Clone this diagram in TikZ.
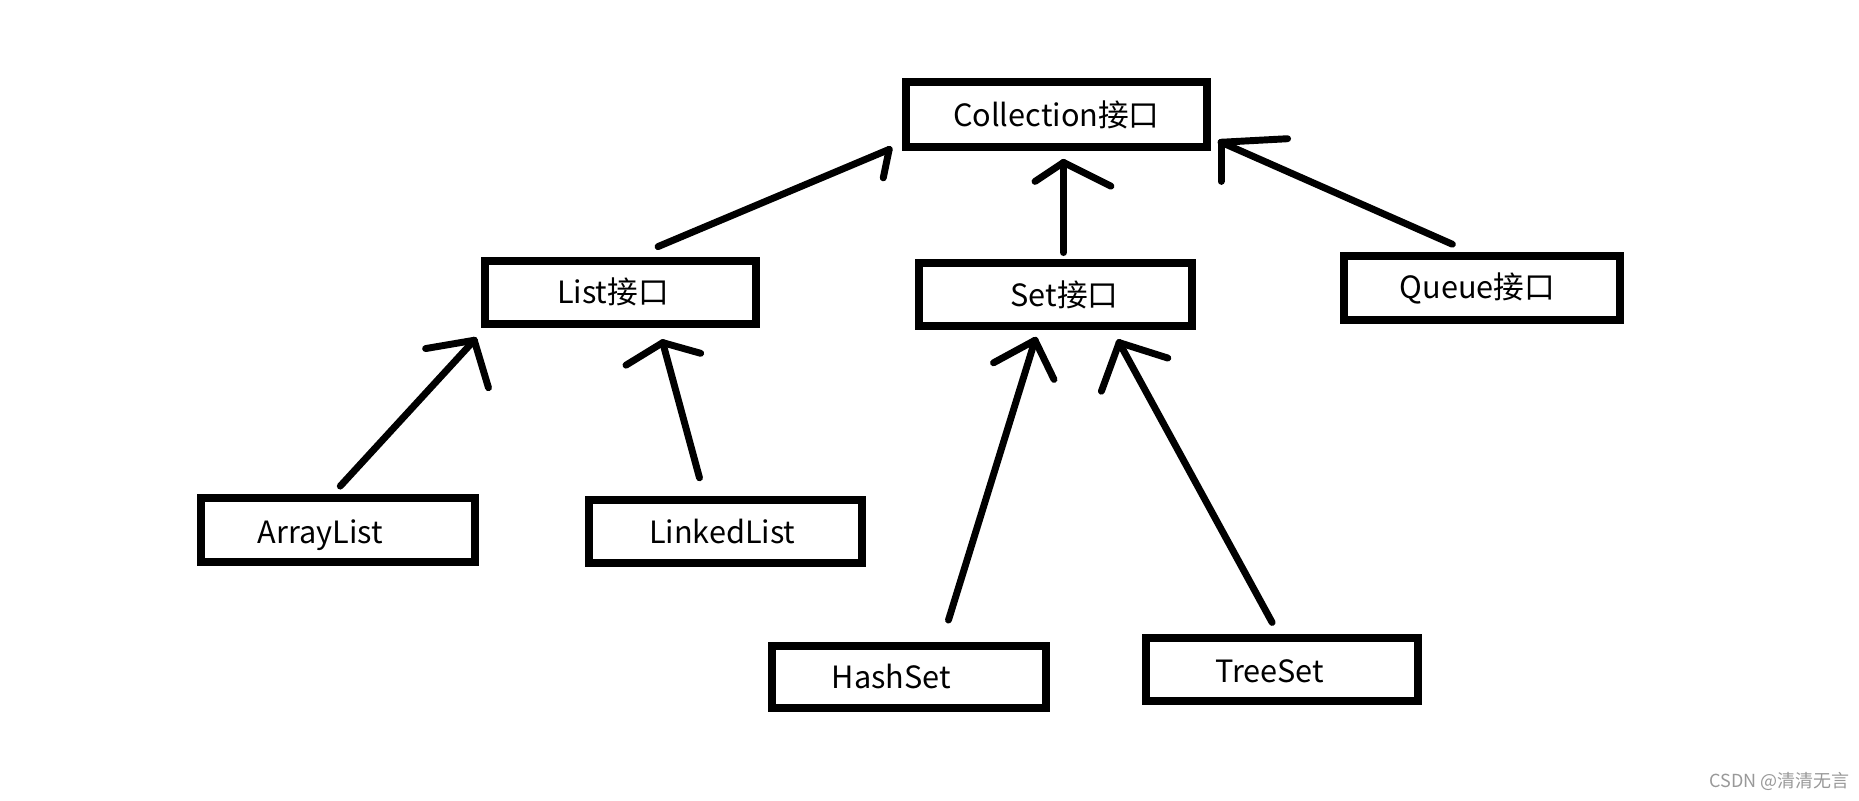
\documentclass[tikz,border=0pt]{standalone}
\usepackage{fontspec}
\setmainfont{Noto Sans CJK SC}
\usetikzlibrary{calc}
\def\un{0.889pt}
\begin{document}
\begin{tikzpicture}[x=0.889pt,y=-0.889pt,
  box/.style={draw=black, line width=6pt, inner sep=0pt, outer sep=0pt,
    minimum width=230*\un, minimum height=53*\un,
    font=\fontsize{23}{26}\selectfont},
  conn/.style={draw=black, line width=5.2pt, line cap=round, line join=round},
  wmark/.style={font=\fontsize{13.5}{15}\selectfont, text=black!40, inner sep=0pt}]
\useasboundingbox[fill=white] (0,0) rectangle (1568,675);

% nodes
\node[box, minimum width=254*\un, minimum height=55*\un] (coll) at (891,96.5) {Collection接口};
\node[box, minimum width=229*\un] (list) at (523.5,246.5) {List接口\hspace*{11.5pt}};
\node[box] (set) at (890,248.5) {\hspace*{14pt}Set接口};
\node[box, minimum width=232*\un, minimum height=54*\un] (queue) at (1250,243) {Queue接口\hspace*{7pt}};
\node[box, minimum width=231*\un, minimum height=54*\un] (al) at (285,447) {\raisebox{-10.3pt}[0pt][0pt]{ArrayList}\hspace*{26.7pt}};
\node[box] (ll) at (612,448.5) {LinkedList\hspace*{5pt}};
\node[box, minimum width=231*\un, minimum height=52*\un] (hs) at (766.5,571) {HashSet\hspace*{26pt}};
\node[box, minimum width=229*\un] (ts) at (1081.5,564.5) {\raisebox{-9.8pt}[0pt][0pt]{TreeSet}\hspace*{19pt}};

% connectors
\draw[conn] ($(list.north)+(31.5,-12)$) -- ($(coll.south west)+(-14,2)$) coordinate (a1);
\draw[conn] (a1) -- ++(-5,24);

\draw[conn] ($(set.north)+(7,-9)$) -- ($(coll.south)+(6,13)$) coordinate (a2);
\draw[conn] (a2) -- ++(-24,16);
\draw[conn] (a2) -- ++(40,20);

\draw[conn] ($(queue.north)+(-25,-10)$) -- ($(coll.south east)+(12,-4)$) coordinate (a3);
\draw[conn] (a3) -- ++(0,33);
\draw[conn] (a3) -- ++(56,-3);

\draw[conn] ($(al.north)+(2,-10)$) -- ($(list.south west)+(-9,14)$) coordinate (a4);
\draw[conn] (a4) -- ++(-41,7);
\draw[conn] (a4) -- ++(12,40);

\draw[conn] ($(ll.north)+(-22,-19)$) -- ($(list.south)+(35.5,16)$) coordinate (a5);
\draw[conn] (a5) -- ++(-31,19);
\draw[conn] (a5) -- ++(32,9);

\draw[conn] ($(hs.north)+(33.5,-22)$) -- ($(set.south)+(-17,12)$) coordinate (a6);
\draw[conn] (a6) -- ++(-35,19);
\draw[conn] (a6) -- ++(16,33);

\draw[conn] ($(ts.north)+(-8.5,-13)$) -- ($(set.south)+(54,14)$) coordinate (a7);
\draw[conn] (a7) -- ++(-15,41);
\draw[conn] (a7) -- ++(41,13);

% watermark
\node[wmark] (wm) at (1501,659) {CSDN @清清无言};
\end{tikzpicture}
\end{document}
